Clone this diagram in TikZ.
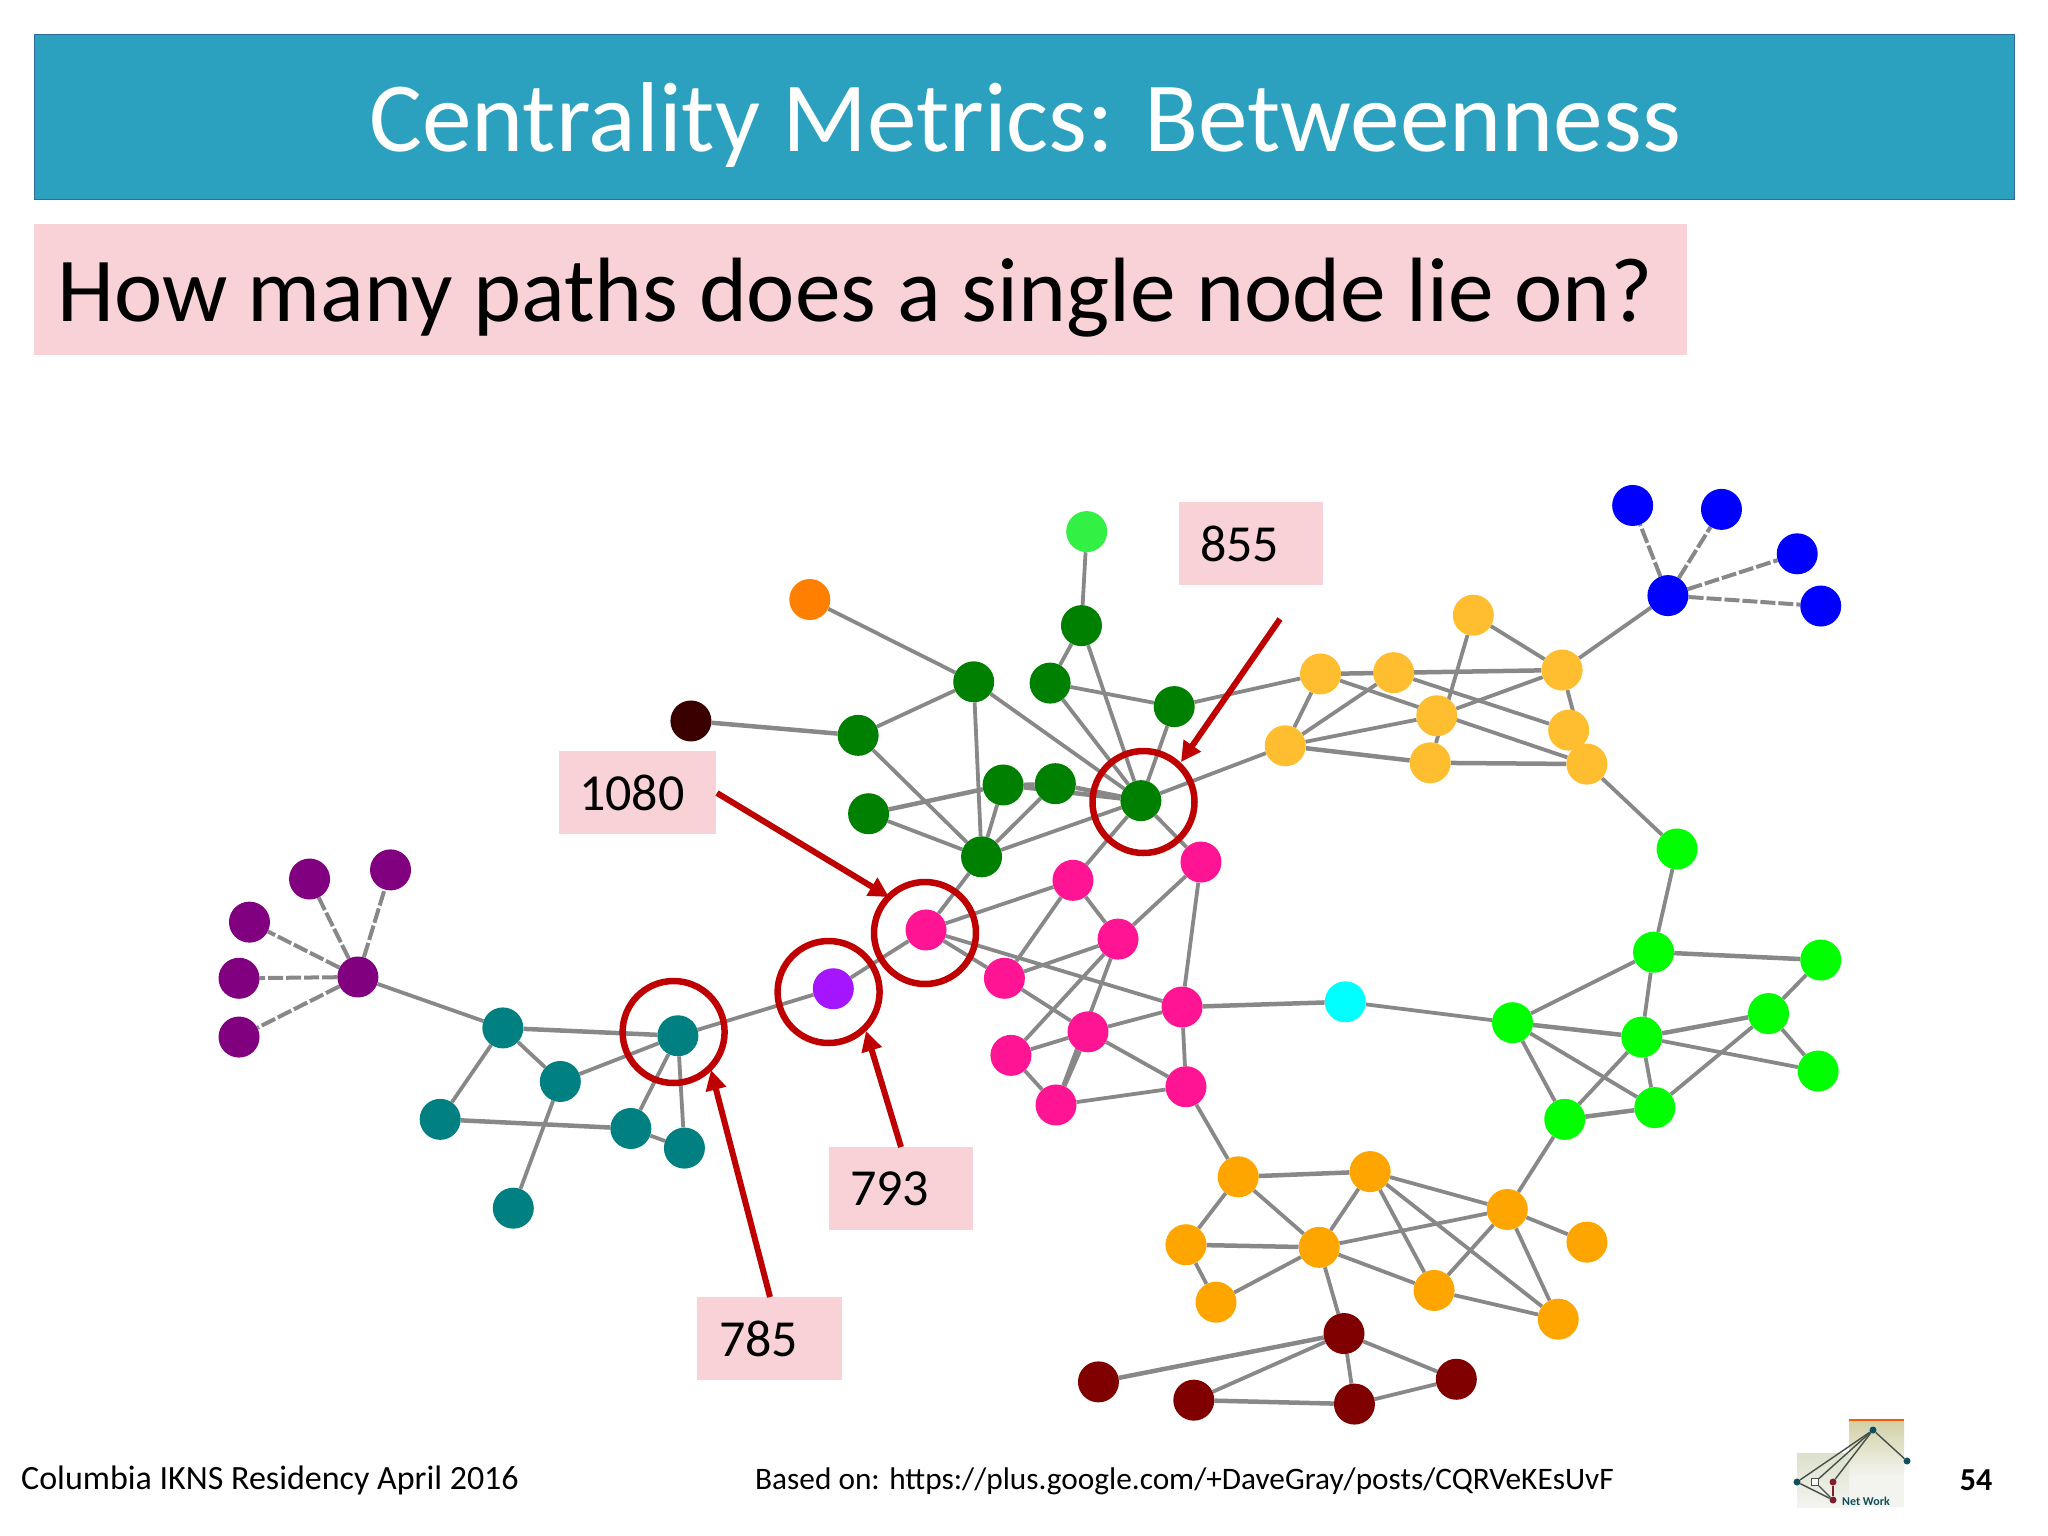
\documentclass[tikz,border=0pt]{standalone}
\usepackage{fontspec}
\setmainfont{Carlito}
\usetikzlibrary{backgrounds,arrows.meta}
\definecolor{bar}{HTML}{2CA1BF}
\definecolor{barline}{HTML}{2F6C9C}
\definecolor{pinkbox}{HTML}{F8D2D7}
\definecolor{edgegray}{HTML}{888888}
\definecolor{redring}{HTML}{BE0000}
\definecolor{cdgreen}{HTML}{008000}
\definecolor{cteal}{HTML}{008080}
\definecolor{cpurple}{HTML}{800080}
\definecolor{cviolet}{HTML}{A515FF}
\definecolor{cpink}{HTML}{FF1493}
\definecolor{clgreen}{HTML}{33F044}
\definecolor{corange}{HTML}{FF8000}
\definecolor{cbrown}{HTML}{3A0000}
\definecolor{cyellow}{HTML}{FFBE30}
\definecolor{cblue}{HTML}{0000FF}
\definecolor{cbright}{HTML}{00FF00}
\definecolor{ccyan}{HTML}{00FFFF}
\definecolor{camber}{HTML}{FFA500}
\definecolor{cmaroon}{HTML}{800000}
\definecolor{logoteal}{HTML}{0F4F5C}
\definecolor{logored}{HTML}{7E1F2E}
\definecolor{logoline}{HTML}{45504A}
\definecolor{logotop}{HTML}{D2D0A4}
\definecolor{logomid}{HTML}{F3F4F0}
\definecolor{logolow}{HTML}{DDE0CC}
\tikzset{
  netnode/.style={circle,draw=none,minimum size=41pt,inner sep=0pt},
  edge/.style={draw=edgegray,line width=3.8pt},
  edgeb/.style={draw=edgegray,line width=4.5pt},
  edged/.style={draw=edgegray,line width=4pt,dash pattern=on 15pt off 3pt},
  ring/.style={draw=redring,line width=6.5pt,fill=none,circle,minimum size=102pt,inner sep=0pt},
  redarrow/.style={draw=redring,line width=6pt,-{Triangle[length=20pt,width=20pt]}},
  labelbox/.style={fill=pinkbox,anchor=north west,minimum height=83pt,inner sep=0pt,align=left,font=\fontsize{52}{58}\selectfont},
  textbase/.style={inner sep=0pt,anchor=base west},
  lognode/.style={circle,inner sep=0pt,minimum size=7pt},
  logedge/.style={draw=logoline,line width=1.4pt}
}
\begin{document}
\begin{tikzpicture}[x=1pt,y=-1pt]
\useasboundingbox (0,0) rectangle (2048,1536);
% header
\node[draw=barline,line width=1.4pt,fill=bar,anchor=north west,minimum width=1980pt,minimum height=165pt,inner sep=0pt] (bar) at (34,34) {};
\node[text=white,inner sep=0pt,anchor=base,font=\fontsize{99.3}{110}\selectfont] (title) at (1025,151) {Centrality Metrics: Betweenness};
\node[fill=pinkbox,anchor=north west,minimum width=1653pt,minimum height=131pt,inner sep=0pt] (qbox) at (34,224) {};
\node[textbase,font=\fontsize{91.4}{100}\selectfont] (question) at (57,321) {How many paths does a single node lie on?};
% network nodes (reference view coordinates)
\begin{scope}[x=1.30612pt,y=-1.30612pt]
\foreach \n/\c/\x/\y in {
 p0/cpurple/274/748,p1/cpurple/237/673,p2/cpurple/299/666,p3/cpurple/191/706,p4/cpurple/183/749,p5/cpurple/183/794,
 t1/cteal/385/787,t2/cteal/519/793,t3/cteal/429/828,t4/cteal/337/857,t5/cteal/483/864,t6/cteal/524/879,t7/cteal/393/925,
 v/cviolet/638/757,
 m0/cpink/709/712,m1/cpink/821.5/674,m2/cpink/856/719,m3/cpink/769/749,m4/cpink/919.5/660,m5/cpink/905/771,m6/cpink/833/790,m7/cpink/774/808,m8/cpink/908/832,m9/cpink/808.5/846,
 g0/cdgreen/873.5/613,g1/cdgreen/828/479,g2/cdgreen/804/523,g3/cdgreen/899/541,g4/cdgreen/745.5/522,g5/cdgreen/657/563,g6/cdgreen/665/623,g7/cdgreen/768/601,g8/cdgreen/808/600,g9/cdgreen/751.5/656,
 oo/corange/620/459,br/cbrown/529/552,lg/clgreen/832/407,
 y1/cyellow/1011/516,y2/cyellow/1067/515,y3/cyellow/1128/471,y4/cyellow/1196/513,y5/cyellow/1100/548,y6/cyellow/984/571,y7/cyellow/1095/584,y8/cyellow/1201/559,y9/cyellow/1215/585,
 b0/cblue/1277/456,b1/cblue/1250/387,b2/cblue/1318/390,b3/cblue/1376/424,b4/cblue/1394/464,
 l0/cbright/1284/650,l1/cbright/1266/729,l2/cbright/1394/735,l3/cbright/1158/783,l4/cbright/1257/794,l5/cbright/1354/776,l6/cbright/1392/820,l7/cbright/1198/857,l8/cbright/1267/848,
 cy/ccyan/1030/767,
 a1/camber/948/901,a2/camber/1049/897,a3/camber/1154/926,a4/camber/908/953,a5/camber/1010/955,a6/camber/1215/951,a7/camber/931/997,a8/camber/1098/988,a9/camber/1193/1010,
 d1/cmaroon/1029/1021,d2/cmaroon/841/1058,d3/cmaroon/914/1072,d4/cmaroon/1037/1075,d5/cmaroon/1115/1056}
 {\node[netnode,fill=\c] (\n) at (\x,\y) {};}
\end{scope}
\begin{pgfonlayer}{background}
\fill[white] (0,0) rectangle (2048,1536);
\foreach \a/\b in {p0/t1,t1/t3,t1/t4,t3/t7,t5/t6,t2/t5,t2/t6,t3/t2,t2/v,v/m0,
 m1/g0,m1/m0,m1/m3,m1/m2,m2/m4,m2/m3,m2/m7,m2/m9,m3/m6,m3/m0,m6/m7,m6/m5,m6/m8,m7/m9,m9/m8,m5/m8,m5/m4,m5/m0,m8/a1,m4/g0,
 oo/g4,g5/g4,g5/g9,g4/g9,g4/g0,g1/g2,g1/g0,g1/lg,g2/g0,g2/g3,g6/g9,g7/g8,g7/g9,g8/g9,g9/g0,g9/m0,g3/g0,g0/y6,g3/y1,
 y1/y6,y2/y6,y1/y9,y2/y8,y3/y4,y3/y7,y4/y5,y4/y9,y9/l0,y4/b0,l0/l1,y5/y6,
 l1/l3,l1/l4,l3/l7,l3/l8,l4/l7,l4/l8,l5/l6,l5/l8,l2/l5,l7/a3,l3/cy,l4/l6,
 a1/a4,a1/a5,a2/a5,a2/a8,a2/a9,a3/a8,a3/a9,a4/a7,a5/a7,a5/a8,a8/a9,a5/d1,a3/a5,a2/a3,a3/a6,
 d1/d3,d1/d4,d1/d5,d4/d5}
 {\draw[edge] (\a) -- (\b);}
\foreach \a/\b in {t1/t2,t4/t5,m5/cy,br/g5,g6/g7,g8/g0,g7/g0,y1/y4,y6/y7,y7/y9,l1/l2,l3/l4,l4/l5,l7/l8,m6/m9,a1/a2,a4/a5,d1/d2,d3/d4}
 {\draw[edgeb] (\a) -- (\b);}
\foreach \b in {p1,p2,p3,p4,p5} {\draw[edged] (p0) -- (\b);}
\foreach \b in {b1,b2,b3,b4} {\draw[edged] (b0) -- (\b);}
\end{pgfonlayer}
% rings
\node[ring] (r855) at (1143.5,802) {};
\node[ring] (r1080) at (925,933) {};
\node[ring] (r793) at (828.6,992) {};
\node[ring] (r785) at (673.6,1032) {};
% labels
\node[labelbox,minimum width=144pt,text width=144pt] (l855) at (1179,502) {\hspace*{21pt}855};
\node[labelbox,minimum width=157pt,text width=157pt] (l1080) at (559,751) {\hspace*{20pt}1080};
\node[labelbox,minimum width=144pt,text width=144pt] (l793) at (829,1147) {\hspace*{21pt}793};
\node[labelbox,minimum width=145pt,text width=145pt] (l785) at (697,1297) {\hspace*{22pt}785};
% arrows
\coordinate (s855) at (1280,619);
\coordinate (e855) at (1181,762);
\coordinate (s1080) at (717,793);
\coordinate (e1080) at (889,897);
\coordinate (s793) at (901,1147);
\coordinate (e793) at (866,1031);
\coordinate (s785) at (770,1297);
\coordinate (e785) at (711,1070);
\draw[redarrow] (s855) -- (e855);
\draw[redarrow] (s1080) -- (e1080);
\draw[redarrow] (s793) -- (e793);
\draw[redarrow] (s785) -- (e785);
% footer
\node[textbase,font=\fontsize{34}{38}\selectfont] (foot1) at (21,1489) {Columbia IKNS Residency April 2016};
\node[textbase,font=\fontsize{31.3}{36}\selectfont] (foot2) at (755,1489) {Based on: https://plus.google.com/+DaveGray/posts/CQRVeKEsUvF};
\node[inner sep=0pt,anchor=base,font=\bfseries\fontsize{32}{36}\selectfont] (pageno) at (1976,1490) {54};
% logo
\shade[top color=logotop,bottom color=logomid] (1849,1420) rectangle (1904,1476);
\fill[logomid] (1849,1476) rectangle (1904,1507);
\shade[top color=logolow,bottom color=logomid] (1797,1453) rectangle (1849,1507);
\draw[draw=orange!70!red,line width=1.3pt] (1849,1420) -- (1904,1420);
\node[lognode,fill=logoteal] (lt) at (1873,1430) {};
\node[lognode,fill=logoteal] (lr) at (1907,1461) {};
\node[lognode,fill=logoteal] (ll) at (1797,1482) {};
\node[rectangle,draw=logoline,fill=white,line width=.8pt,inner sep=0pt,minimum size=7pt] (ls) at (1815,1482) {};
\node[lognode,fill=logored] (lm) at (1833,1482) {};
\node[lognode,fill=logored] (lb) at (1833,1500) {};
\draw[logedge] (lt) -- (ll);
\draw[logedge] (lt) -- (ls);
\draw[logedge] (lt) -- (lm);
\draw[logedge] (lt) -- (lr);
\draw[logedge] (ll) -- (lb);
\draw[logedge] (ls) -- (lb);
\draw[draw=logored,line width=1.4pt] (lm) -- (lb);
\node[inner sep=0pt,anchor=base west,text=logoteal,font=\rmfamily\bfseries\fontsize{12}{14}\selectfont] (lwork) at (1842,1505) {Net Work};
\end{tikzpicture}
\end{document}
